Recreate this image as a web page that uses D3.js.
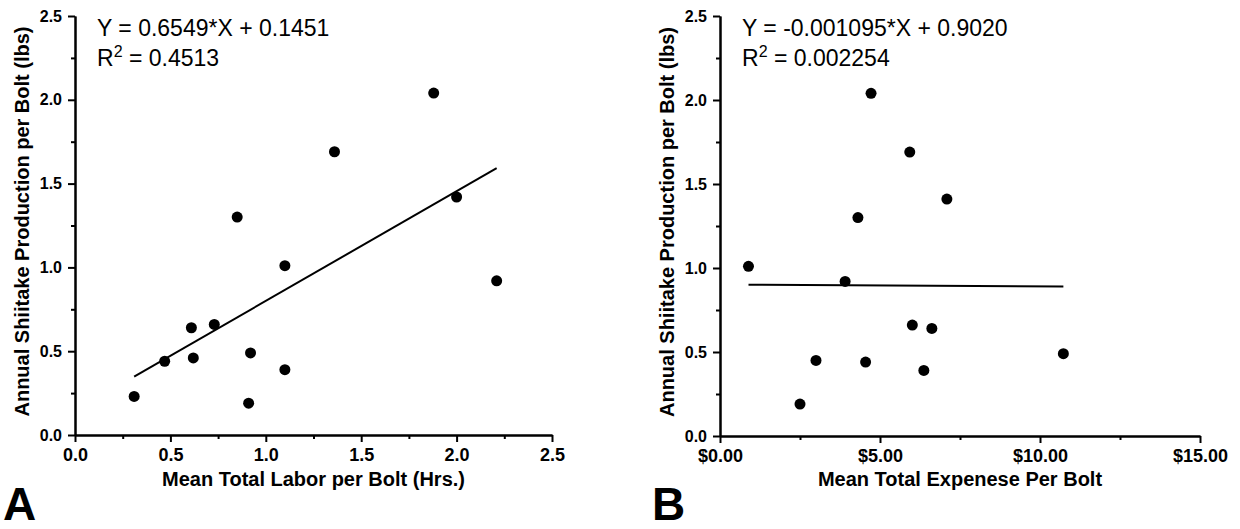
<!DOCTYPE html>
<html>
<head>
<meta charset="utf-8">
<script src="https://cdn.jsdelivr.net/npm/d3@7"></script>
<style>
  body { margin: 0; background: #fff; }
  svg { font-family: "Liberation Sans", Arial, sans-serif; }
</style>
</head>
<body>
<script>
// panel A: labor vs yield
const laborHours = [0.31, 0.47, 0.61, 0.62, 0.73, 0.85, 0.92, 0.91, 1.10, 1.10, 1.36, 1.88, 2.00, 2.21]
const laborYield = [0.23, 0.44, 0.64, 0.46, 0.66, 1.30, 0.49, 0.19, 0.39, 1.01, 1.69, 2.04, 1.42, 0.92]
// panel B: expense vs yield
const expenseDollars = [0.89, 2.50, 3.00, 3.91, 4.31, 4.55, 4.72, 5.93, 6.01, 6.37, 6.62, 7.09, 10.73]
const expenseYield = [1.01, 0.19, 0.45, 0.92, 1.30, 0.44, 2.04, 1.69, 0.66, 0.39, 0.64, 1.41, 0.49]

const yTicks = [0.0, 0.5, 1.0, 1.5, 2.0, 2.5]
const yMinor = [0.25, 0.75, 1.25, 1.75, 2.25]
const laborTicks = [0.0, 0.5, 1.0, 1.5, 2.0, 2.5]
const laborMinor = [0.25, 0.75, 1.25, 1.75, 2.25]
const expenseTicks = [0, 5, 10, 15]
const expenseMinor = [2.5, 7.5, 12.5]

const w = 1240
const h = 529

const svg = d3.select("body")
              .append("svg")
              .attr("width", w)
              .attr("height", h)

const drawPanel = (p) => {
    const xScale = d3.scaleLinear()
                     .domain(p.xDomain)
                     .range([p.left, p.right])
    const yScale = d3.scaleLinear()
                     .domain([0, 2.5])
                     .range([p.bottom, p.top])

    const g = svg.append("g")

    // minor ticks first so the main axis sits on top
    g.append("g")
     .attr("class", "minor")
     .attr("transform", "translate(0, " + p.bottom + ")")
     .call(d3.axisBottom(xScale).tickValues(p.xMinor).tickSize(4).tickSizeOuter(0).tickFormat(""))
    g.append("g")
     .attr("class", "minor")
     .attr("transform", "translate(" + p.left + ", 0)")
     .call(d3.axisLeft(yScale).tickValues(yMinor).tickSize(4).tickSizeOuter(0).tickFormat(""))

    const xAxis = d3.axisBottom(xScale)
                    .tickValues(p.xTicks)
                    .tickSize(7)
                    .tickSizeOuter(0)
                    .tickPadding(6)
                    .tickFormat(p.xFormat)
    const yAxis = d3.axisLeft(yScale)
                    .tickValues(yTicks)
                    .tickSize(7)
                    .tickSizeOuter(0)
                    .tickPadding(6)
                    .tickFormat(d3.format(".1f"))

    g.append("g")
     .attr("class", "x-axis")
     .attr("transform", "translate(0, " + p.bottom + ")")
     .call(xAxis)
     .selectAll("text")
     .style("font-size", "18px")
     .style("font-weight", "bold")
     .style("fill", "#000")

    g.append("g")
     .attr("class", "y-axis")
     .attr("transform", "translate(" + p.left + ", 0)")
     .call(yAxis)
     .selectAll("text")
     .style("font-size", "16px")
     .style("font-weight", "bold")
     .style("fill", "#000")

    g.selectAll(".domain, .tick line")
     .style("stroke", "#000")
     .style("stroke-width", 2)

    // regression line across the data range
    const xs = d3.extent(p.xs)
    g.append("line")
     .attr("x1", xScale(xs[0]))
     .attr("y1", yScale(p.slope * xs[0] + p.intercept))
     .attr("x2", xScale(xs[1]))
     .attr("y2", yScale(p.slope * xs[1] + p.intercept))
     .style("stroke", "#000")
     .style("stroke-width", 2)

    g.selectAll("circle")
     .data(p.xs.map((d, i) => [d, p.ys[i]]))
     .enter()
     .append("circle")
     .attr("cx", (d) => {
        return xScale(d[0])
     })
     .attr("cy", (d) => {
        return yScale(d[1])
     })
     .attr("r", 5.5)
     .attr("fill", "#000")

    // equation + r squared
    g.append("text")
     .attr("x", p.left + 22)
     .attr("y", 36)
     .style("font-size", "23px")
     .text(p.equation)
    const r2 = g.append("text")
                .attr("x", p.left + 22)
                .attr("y", 66)
                .style("font-size", "23px")
    r2.append("tspan").text("R")
    r2.append("tspan").attr("dy", -9).style("font-size", "16px").text("2")
    r2.append("tspan").attr("dy", 9).text(" = " + p.r2)

    // axis titles
    g.append("text")
     .attr("x", (p.left + p.right) / 2)
     .attr("y", 486)
     .attr("text-anchor", "middle")
     .style("font-size", "20px")
     .style("font-weight", "bold")
     .text(p.xTitle)

    g.append("text")
     .attr("transform", "translate(" + (p.left - 46) + ", " + ((p.top + p.bottom) / 2 - 4) + ") rotate(-90)")
     .attr("text-anchor", "middle")
     .style("font-size", "20px")
     .style("font-weight", "bold")
     .text("Annual Shiitake Production per Bolt (lbs)")

    // panel letter
    g.append("text")
     .attr("x", p.letterX)
     .attr("y", 520)
     .style("font-size", "46px")
     .style("font-weight", "bold")
     .text(p.letter)
}

drawPanel({
    left: 75, right: 552, top: 16, bottom: 435,
    xDomain: [0, 2.5],
    xTicks: laborTicks,
    xMinor: laborMinor,
    xFormat: d3.format(".1f"),
    xs: laborHours,
    ys: laborYield,
    slope: 0.6549,
    intercept: 0.1451,
    equation: "Y = 0.6549*X + 0.1451",
    r2: "0.4513",
    xTitle: "Mean Total Labor per Bolt (Hrs.)",
    letter: "A",
    letterX: 3
})

drawPanel({
    left: 720, right: 1200, top: 16, bottom: 436,
    xDomain: [0, 15],
    xTicks: expenseTicks,
    xMinor: expenseMinor,
    xFormat: (d) => "$" + d3.format(".2f")(d),
    xs: expenseDollars,
    ys: expenseYield,
    slope: -0.001095,
    intercept: 0.9020,
    equation: "Y = -0.001095*X + 0.9020",
    r2: "0.002254",
    xTitle: "Mean Total Expenese Per Bolt",
    letter: "B",
    letterX: 652
})
</script>
</body>
</html>
